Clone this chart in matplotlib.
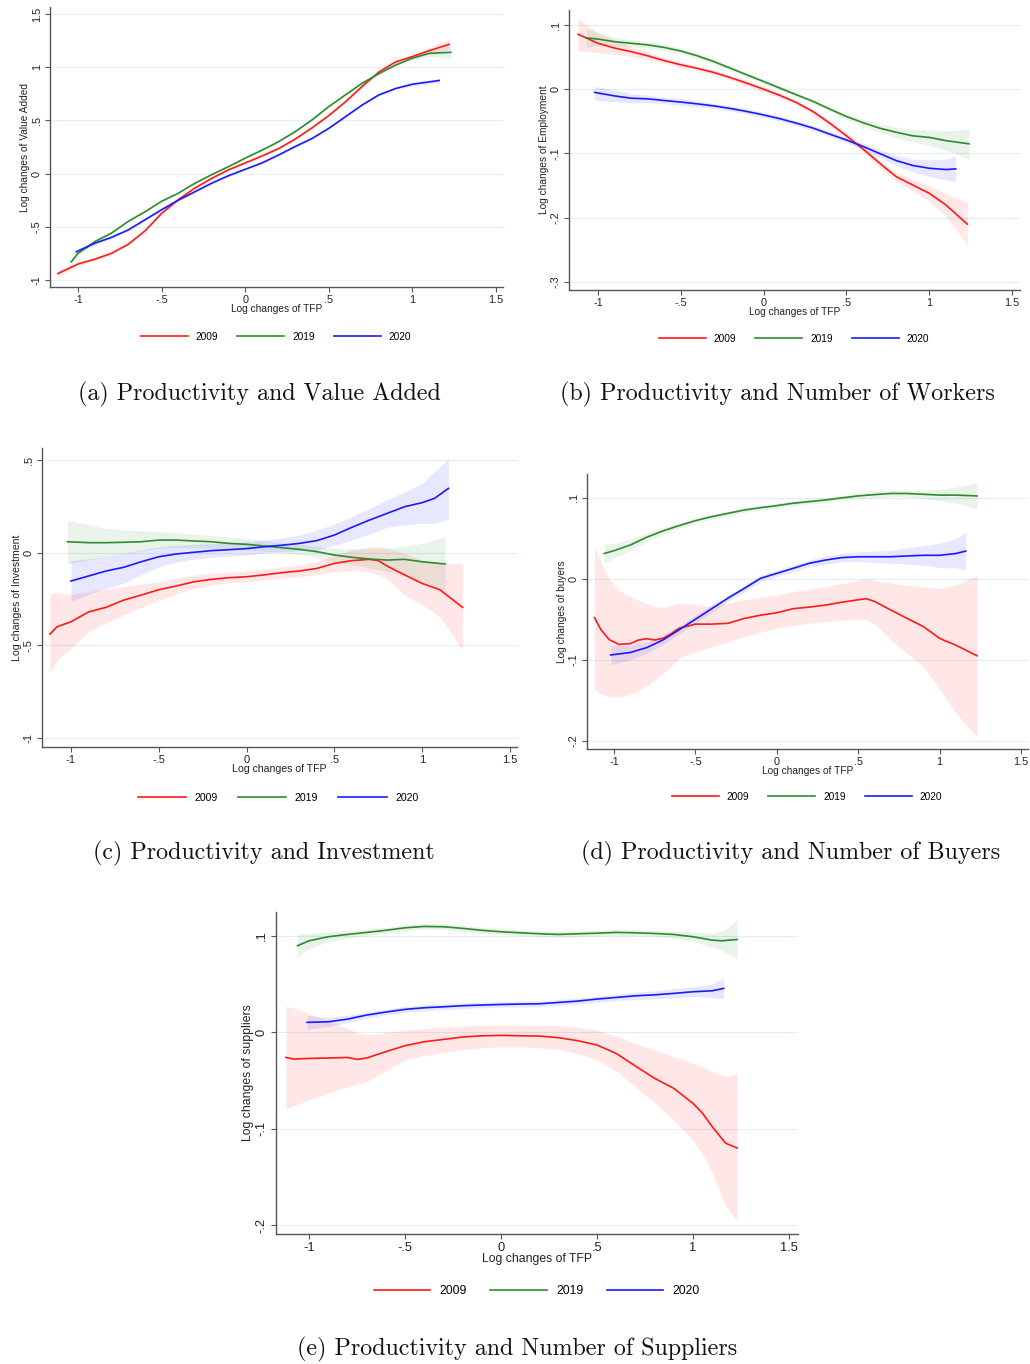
import matplotlib
matplotlib.use("Agg")
import matplotlib.pyplot as plt
from matplotlib.lines import Line2D

# ---------------- data ----------------
years = ["2009", "2019", "2020"]
colors = ["#ff1a1a", "#2e8b2e", "#1a1aff"]

x_ticks = [-1, -0.5, 0, 0.5, 1, 1.5]
x_tick_labels = ["-1", "-.5", "0", ".5", "1", "1.5"]
x_label = "Log changes of TFP"

# (a) Value added
a_yticks = [-1, -0.5, 0, 0.5, 1, 1.5]
a_ytick_labels = ["-1", "-.5", "0", ".5", "1", "1.5"]
a_ylabel = "Log changes of Value Added"
a_x09 = [-1.12, -1.0, -0.9, -0.8, -0.7, -0.6, -0.5, -0.4, -0.3, -0.2, -0.1, 0.0, 0.1, 0.2, 0.3, 0.4, 0.5, 0.6, 0.7, 0.8, 0.9, 1.0, 1.1, 1.22]
a_y09 = [-0.94, -0.85, -0.805, -0.75, -0.665, -0.54, -0.375, -0.245, -0.135, -0.045, 0.035, 0.10, 0.165, 0.235, 0.325, 0.43, 0.545, 0.675, 0.82, 0.955, 1.05, 1.10, 1.155, 1.215]
a_lo09 = [-0.97, -0.87, -0.82, -0.765, -0.677, -0.55, -0.385, -0.255, -0.145, -0.055, 0.025, 0.09, 0.155, 0.225, 0.315, 0.42, 0.535, 0.662, 0.805, 0.94, 1.035, 1.08, 1.125, 1.165]
a_hi09 = [-0.91, -0.83, -0.79, -0.735, -0.653, -0.53, -0.365, -0.235, -0.125, -0.035, 0.045, 0.11, 0.175, 0.245, 0.335, 0.44, 0.555, 0.688, 0.835, 0.97, 1.065, 1.12, 1.185, 1.265]
a_x19 = [-1.04, -1.0, -0.9, -0.8, -0.7, -0.6, -0.5, -0.4, -0.3, -0.2, -0.1, 0.0, 0.1, 0.2, 0.3, 0.4, 0.5, 0.6, 0.7, 0.8, 0.9, 1.0, 1.1, 1.23]
a_y19 = [-0.83, -0.75, -0.64, -0.56, -0.45, -0.36, -0.26, -0.185, -0.09, -0.01, 0.065, 0.145, 0.22, 0.30, 0.395, 0.505, 0.63, 0.74, 0.85, 0.94, 1.02, 1.085, 1.13, 1.14]
a_lo19 = [-0.86, -0.77, -0.655, -0.57, -0.46, -0.37, -0.27, -0.195, -0.10, -0.02, 0.055, 0.135, 0.21, 0.29, 0.385, 0.495, 0.62, 0.73, 0.84, 0.93, 1.008, 1.07, 1.105, 1.08]
a_hi19 = [-0.80, -0.73, -0.625, -0.55, -0.44, -0.35, -0.25, -0.175, -0.08, 0.0, 0.075, 0.155, 0.23, 0.31, 0.405, 0.515, 0.64, 0.75, 0.86, 0.95, 1.032, 1.10, 1.155, 1.20]
a_x20 = [-1.01, -0.9, -0.8, -0.7, -0.6, -0.5, -0.4, -0.3, -0.2, -0.1, 0.0, 0.1, 0.2, 0.3, 0.4, 0.5, 0.6, 0.7, 0.8, 0.9, 1.0, 1.16]
a_y20 = [-0.735, -0.655, -0.60, -0.53, -0.435, -0.34, -0.25, -0.17, -0.09, -0.02, 0.04, 0.10, 0.175, 0.255, 0.33, 0.425, 0.535, 0.645, 0.74, 0.80, 0.84, 0.875]
a_lo20 = [-0.755, -0.67, -0.612, -0.542, -0.447, -0.352, -0.262, -0.182, -0.102, -0.032, 0.028, 0.088, 0.163, 0.243, 0.318, 0.413, 0.523, 0.633, 0.728, 0.788, 0.826, 0.855]
a_hi20 = [-0.715, -0.64, -0.588, -0.518, -0.423, -0.328, -0.238, -0.158, -0.078, -0.008, 0.052, 0.112, 0.187, 0.267, 0.342, 0.437, 0.547, 0.657, 0.752, 0.812, 0.854, 0.895]

# (b) Employment
b_yticks = [-0.3, -0.2, -0.1, 0, 0.1]
b_ytick_labels = ["-.3", "-.2", "-.1", "0", ".1"]
b_ylabel = "Log changes of Employment"
b_x09 = [-1.12, -1.0, -0.9, -0.8, -0.7, -0.6, -0.5, -0.4, -0.3, -0.2, -0.1, 0.0, 0.1, 0.2, 0.3, 0.4, 0.5, 0.6, 0.7, 0.8, 0.9, 1.0, 1.1, 1.23]
b_y09 = [0.0855, 0.0715, 0.064, 0.0585, 0.052, 0.0445, 0.038, 0.0325, 0.026, 0.018, 0.0093, 0.0, -0.0098, -0.021, -0.035, -0.053, -0.0725, -0.093, -0.115, -0.136, -0.149, -0.162, -0.18, -0.21]
b_lo09 = [0.06, 0.057, 0.054, 0.051, 0.046, 0.040, 0.034, 0.029, 0.022, 0.014, 0.005, -0.004, -0.014, -0.025, -0.039, -0.057, -0.077, -0.098, -0.121, -0.143, -0.158, -0.174, -0.197, -0.242]
b_hi09 = [0.11, 0.088, 0.076, 0.066, 0.058, 0.049, 0.042, 0.036, 0.030, 0.022, 0.0135, 0.004, -0.0056, -0.017, -0.031, -0.049, -0.068, -0.088, -0.109, -0.129, -0.140, -0.150, -0.163, -0.176]
b_x19 = [-1.07, -1.0, -0.9, -0.8, -0.7, -0.6, -0.5, -0.4, -0.3, -0.2, -0.1, 0.0, 0.1, 0.2, 0.3, 0.4, 0.5, 0.6, 0.7, 0.8, 0.9, 1.0, 1.1, 1.24]
b_y19 = [0.080, 0.078, 0.074, 0.0715, 0.069, 0.065, 0.0595, 0.052, 0.043, 0.0326, 0.0223, 0.012, 0.0016, -0.0088, -0.019, -0.031, -0.0425, -0.052, -0.0606, -0.067, -0.0725, -0.075, -0.080, -0.085]
b_lo19 = [0.065, 0.068, 0.067, 0.066, 0.064, 0.060, 0.055, 0.048, 0.039, 0.029, 0.019, 0.009, -0.0015, -0.012, -0.022, -0.0345, -0.047, -0.057, -0.067, -0.075, -0.082, -0.087, -0.095, -0.109]
b_hi19 = [0.095, 0.088, 0.081, 0.077, 0.074, 0.070, 0.064, 0.056, 0.047, 0.036, 0.0256, 0.015, 0.0047, -0.0056, -0.016, -0.0275, -0.038, -0.047, -0.054, -0.059, -0.063, -0.063, -0.065, -0.062]
b_x20 = [-1.02, -0.9, -0.8, -0.7, -0.6, -0.5, -0.4, -0.3, -0.2, -0.1, 0.0, 0.1, 0.2, 0.3, 0.4, 0.5, 0.6, 0.7, 0.8, 0.9, 1.0, 1.1, 1.16]
b_y20 = [-0.005, -0.0104, -0.014, -0.015, -0.0176, -0.020, -0.0228, -0.026, -0.030, -0.0347, -0.040, -0.046, -0.053, -0.0606, -0.070, -0.079, -0.089, -0.100, -0.111, -0.1187, -0.123, -0.125, -0.124]
b_lo20 = [-0.017, -0.0194, -0.021, -0.021, -0.0226, -0.025, -0.0278, -0.030, -0.034, -0.0387, -0.044, -0.050, -0.057, -0.0646, -0.074, -0.083, -0.094, -0.106, -0.119, -0.1287, -0.136, -0.141, -0.144]
b_hi20 = [0.005, -0.0014, -0.007, -0.009, -0.0126, -0.015, -0.0178, -0.022, -0.026, -0.0307, -0.036, -0.042, -0.049, -0.0566, -0.066, -0.075, -0.084, -0.094, -0.103, -0.1087, -0.110, -0.109, -0.104]

# (c) Investment
c_yticks = [-1, -0.5, 0, 0.5]
c_ytick_labels = ["-1", "-.5", "0", ".5"]
c_ylabel = "Log changes of Investment"
c_x09 = [-1.12, -1.08, -1.0, -0.9, -0.8, -0.7, -0.6, -0.5, -0.4, -0.3, -0.2, -0.1, 0.0, 0.1, 0.2, 0.3, 0.4, 0.5, 0.6, 0.7, 0.75, 0.8, 0.9, 1.0, 1.1, 1.23]
c_y09 = [-0.44, -0.40, -0.373, -0.32, -0.295, -0.256, -0.229, -0.20, -0.18, -0.157, -0.144, -0.135, -0.13, -0.12, -0.108, -0.099, -0.085, -0.058, -0.043, -0.036, -0.043, -0.072, -0.12, -0.166, -0.20, -0.295]
c_lo09 = [-0.65, -0.58, -0.517, -0.427, -0.38, -0.337, -0.295, -0.256, -0.225, -0.193, -0.175, -0.163, -0.157, -0.148, -0.138, -0.13, -0.118, -0.103, -0.095, -0.105, -0.12, -0.14, -0.229, -0.283, -0.346, -0.526]
c_hi09 = [-0.22, -0.216, -0.225, -0.21, -0.197, -0.184, -0.17, -0.157, -0.138, -0.12, -0.11, -0.104, -0.10, -0.09, -0.078, -0.067, -0.05, -0.013, 0.015, 0.03, 0.036, 0.025, -0.004, -0.04, -0.058, -0.061]
c_x19 = [-1.02, -0.9, -0.8, -0.7, -0.6, -0.5, -0.4, -0.3, -0.2, -0.1, 0.0, 0.1, 0.2, 0.3, 0.4, 0.5, 0.6, 0.7, 0.8, 0.9, 1.0, 1.13]
c_y19 = [0.059, 0.054, 0.054, 0.056, 0.059, 0.068, 0.068, 0.063, 0.059, 0.05, 0.045, 0.036, 0.027, 0.018, 0.0054, -0.0126, -0.025, -0.034, -0.04, -0.036, -0.049, -0.061]
c_lo19 = [-0.061, -0.04, -0.022, -0.005, 0.01, 0.023, 0.028, 0.027, 0.024, 0.018, 0.014, 0.008, 0.0, -0.01, -0.025, -0.049, -0.065, -0.082, -0.103, -0.128, -0.157, -0.21]
c_hi19 = [0.176, 0.15, 0.131, 0.124, 0.118, 0.113, 0.108, 0.099, 0.094, 0.085, 0.077, 0.066, 0.055, 0.045, 0.035, 0.023, 0.02, 0.02, 0.023, 0.035, 0.05, 0.086]
c_x20 = [-1.0, -0.9, -0.8, -0.7, -0.6, -0.5, -0.4, -0.3, -0.2, -0.1, 0.0, 0.1, 0.2, 0.3, 0.4, 0.5, 0.6, 0.7, 0.8, 0.9, 1.0, 1.07, 1.15]
c_y20 = [-0.153, -0.126, -0.099, -0.079, -0.049, -0.022, -0.007, 0.002, 0.011, 0.016, 0.022, 0.032, 0.04, 0.05, 0.065, 0.095, 0.137, 0.176, 0.212, 0.248, 0.27, 0.293, 0.347]
c_lo20 = [-0.265, -0.225, -0.193, -0.165, -0.12, -0.076, -0.05, -0.035, -0.025, -0.018, -0.013, -0.003, 0.005, 0.01, 0.014, 0.04, 0.068, 0.1, 0.137, 0.15, 0.158, 0.158, 0.18]
c_hi20 = [-0.043, -0.033, -0.022, -0.002, 0.015, 0.032, 0.04, 0.045, 0.05, 0.054, 0.059, 0.068, 0.08, 0.095, 0.122, 0.155, 0.194, 0.24, 0.284, 0.33, 0.374, 0.437, 0.51]

# (d) Buyers
d_yticks = [-0.2, -0.1, 0, 0.1]
d_ytick_labels = ["-.2", "-.1", "0", ".1"]
d_ylabel = "Log changes of buyers"
d_x09 = [-1.12, -1.08, -1.03, -0.97, -0.9, -0.85, -0.8, -0.75, -0.7, -0.65, -0.6, -0.5, -0.4, -0.3, -0.2, -0.1, 0.0, 0.1, 0.2, 0.3, 0.4, 0.5, 0.55, 0.6, 0.7, 0.8, 0.9, 1.0, 1.1, 1.23]
d_y09 = [-0.048, -0.063, -0.075, -0.081, -0.080, -0.0756, -0.074, -0.0756, -0.0736, -0.068, -0.061, -0.056, -0.056, -0.055, -0.049, -0.045, -0.042, -0.037, -0.035, -0.0325, -0.029, -0.026, -0.0247, -0.028, -0.0386, -0.049, -0.059, -0.0736, -0.082, -0.095]
d_lo09 = [-0.137, -0.142, -0.145, -0.146, -0.143, -0.138, -0.132, -0.125, -0.117, -0.108, -0.098, -0.09, -0.084, -0.078, -0.0715, -0.066, -0.061, -0.058, -0.055, -0.053, -0.051, -0.050, -0.050, -0.056, -0.0756, -0.092, -0.108, -0.137, -0.166, -0.195]
d_hi09 = [0.039, 0.02, 0.0, -0.014, -0.022, -0.027, -0.031, -0.034, -0.035, -0.033, -0.030, -0.032, -0.034, -0.030, -0.026, -0.023, -0.020, -0.016, -0.013, -0.0099, -0.006, -0.002, 0.0004, -0.002, -0.005, -0.008, -0.0099, -0.012, -0.0078, 0.0045]
d_x19 = [-1.06, -1.0, -0.9, -0.8, -0.7, -0.6, -0.5, -0.4, -0.3, -0.2, -0.1, 0.0, 0.1, 0.2, 0.3, 0.4, 0.5, 0.6, 0.7, 0.8, 0.9, 1.0, 1.1, 1.23]
d_y19 = [0.031, 0.0345, 0.0415, 0.051, 0.0588, 0.0654, 0.0715, 0.0764, 0.0805, 0.0846, 0.0875, 0.09, 0.093, 0.095, 0.097, 0.0996, 0.102, 0.1036, 0.105, 0.105, 0.104, 0.103, 0.103, 0.102]
d_lo19 = [0.019, 0.0255, 0.0345, 0.046, 0.0548, 0.0624, 0.0685, 0.0734, 0.0775, 0.0816, 0.0845, 0.087, 0.090, 0.092, 0.094, 0.0966, 0.099, 0.0996, 0.101, 0.101, 0.099, 0.096, 0.093, 0.086]
d_hi19 = [0.043, 0.0435, 0.0485, 0.056, 0.0628, 0.0684, 0.0745, 0.0794, 0.0835, 0.0876, 0.0905, 0.093, 0.096, 0.098, 0.100, 0.1026, 0.105, 0.1076, 0.109, 0.109, 0.109, 0.110, 0.113, 0.118]
d_x20 = [-1.02, -0.9, -0.8, -0.7, -0.6, -0.5, -0.4, -0.3, -0.2, -0.1, 0.0, 0.1, 0.2, 0.3, 0.4, 0.5, 0.6, 0.7, 0.8, 0.9, 1.0, 1.1, 1.16]
d_y20 = [-0.094, -0.091, -0.085, -0.0756, -0.063, -0.05, -0.037, -0.024, -0.012, 0.0004, 0.0066, 0.0127, 0.019, 0.023, 0.026, 0.027, 0.027, 0.027, 0.028, 0.0288, 0.0288, 0.031, 0.034]
d_lo20 = [-0.106, -0.100, -0.092, -0.0816, -0.068, -0.055, -0.042, -0.028, -0.016, -0.0036, 0.0026, 0.0087, 0.015, 0.018, 0.021, 0.021, 0.020, 0.019, 0.018, 0.0168, 0.0138, 0.013, 0.011]
d_hi20 = [-0.082, -0.082, -0.078, -0.0696, -0.058, -0.045, -0.032, -0.020, -0.008, 0.0044, 0.0106, 0.0167, 0.023, 0.028, 0.031, 0.033, 0.034, 0.035, 0.038, 0.0408, 0.0438, 0.049, 0.057]

# (e) Suppliers
e_yticks = [-0.2, -0.1, 0, 0.1]
e_ytick_labels = ["-.2", "-.1", "0", ".1"]
e_ylabel = "Log changes of suppliers"
e_x09 = [-1.12, -1.08, -1.0, -0.9, -0.8, -0.75, -0.7, -0.6, -0.5, -0.4, -0.3, -0.2, -0.1, 0.0, 0.1, 0.2, 0.3, 0.4, 0.5, 0.6, 0.7, 0.8, 0.9, 1.0, 1.05, 1.1, 1.17, 1.23]
e_y09 = [-0.026, -0.0277, -0.027, -0.0266, -0.026, -0.028, -0.0266, -0.020, -0.0138, -0.0097, -0.0073, -0.0048, -0.0035, -0.0031, -0.0035, -0.0038, -0.0055, -0.0086, -0.0131, -0.0218, -0.0349, -0.0477, -0.0581, -0.0737, -0.084, -0.0979, -0.115, -0.12]
e_lo09 = [-0.080, -0.076, -0.070, -0.063, -0.0564, -0.054, -0.0512, -0.040, -0.0287, -0.024, -0.0211, -0.018, -0.016, -0.0149, -0.015, -0.016, -0.0176, -0.022, -0.0287, -0.040, -0.0564, -0.073, -0.091, -0.1117, -0.127, -0.146, -0.180, -0.196]
e_hi09 = [0.0273, 0.025, 0.0197, 0.012, 0.0042, 0.0, -0.0028, 0.0, 0.0024, 0.004, 0.0052, 0.0065, 0.0072, 0.0076, 0.0075, 0.0072, 0.0069, 0.005, 0.0024, -0.004, -0.0114, -0.018, -0.0253, -0.0322, -0.036, -0.0408, -0.046, -0.0425]
e_x19 = [-1.06, -1.0, -0.9, -0.8, -0.7, -0.6, -0.5, -0.4, -0.3, -0.2, -0.1, 0.0, 0.1, 0.2, 0.3, 0.4, 0.5, 0.6, 0.7, 0.8, 0.9, 1.0, 1.1, 1.15, 1.23]
e_y19 = [0.090, 0.0951, 0.0993, 0.1017, 0.1038, 0.106, 0.1086, 0.110, 0.1097, 0.108, 0.106, 0.1045, 0.1034, 0.1024, 0.1017, 0.1024, 0.103, 0.1038, 0.1034, 0.1027, 0.1017, 0.0993, 0.0958, 0.0951, 0.0965]
e_lo19 = [0.078, 0.0871, 0.0943, 0.0977, 0.1008, 0.103, 0.1056, 0.107, 0.1067, 0.105, 0.103, 0.1015, 0.1004, 0.0994, 0.0987, 0.0994, 0.100, 0.1008, 0.1004, 0.0997, 0.0977, 0.0943, 0.0888, 0.0851, 0.0765]
e_hi19 = [0.102, 0.1031, 0.1043, 0.1057, 0.1068, 0.109, 0.1116, 0.113, 0.1127, 0.111, 0.109, 0.1075, 0.1064, 0.1054, 0.1047, 0.1054, 0.106, 0.1068, 0.1064, 0.1057, 0.1057, 0.1043, 0.1028, 0.1051, 0.1165]
e_x20 = [-1.01, -0.9, -0.8, -0.7, -0.6, -0.5, -0.4, -0.3, -0.2, -0.1, 0.0, 0.1, 0.2, 0.3, 0.4, 0.5, 0.6, 0.7, 0.8, 0.9, 1.0, 1.1, 1.16]
e_y20 = [0.0104, 0.011, 0.0138, 0.018, 0.0211, 0.0239, 0.0256, 0.0266, 0.0277, 0.0284, 0.029, 0.0294, 0.0297, 0.0311, 0.0325, 0.0346, 0.0363, 0.038, 0.039, 0.0405, 0.0422, 0.0432, 0.0457]
e_lo20 = [0.0034, 0.006, 0.0098, 0.015, 0.0181, 0.0209, 0.0226, 0.0236, 0.0247, 0.0254, 0.026, 0.0264, 0.0267, 0.0281, 0.0295, 0.0316, 0.0333, 0.034, 0.035, 0.0355, 0.0372, 0.0362, 0.0347]
e_hi20 = [0.0174, 0.016, 0.0178, 0.021, 0.0241, 0.0269, 0.0286, 0.0296, 0.0307, 0.0314, 0.032, 0.0324, 0.0327, 0.0341, 0.0355, 0.0376, 0.0393, 0.042, 0.043, 0.0455, 0.0472, 0.0502, 0.0567]

captions = ["(a) Productivity and Value Added",
            "(b) Productivity and Number of Workers",
            "(c) Productivity and Investment",
            "(d) Productivity and Number of Buyers",
            "(e) Productivity and Number of Suppliers"]

# ---------------- layout ----------------
W, H = 1030, 1364
SANS = ["Liberation Sans", "DejaVu Sans"]
SERIF = ["cmr10", "DejaVu Serif"]
plt.rcParams["axes.unicode_minus"] = False

fig = plt.figure(figsize=(W / 100, H / 100), dpi=100)


def rect(l, t, r, b):
    return [l / W, 1 - b / H, (r - l) / W, (b - t) / H]


panels = [
    dict(box=(50, 7, 503, 287), xlim=(-1.167, 1.542), ylim=(-1.066, 1.566),
         yt=a_yticks, ytl=a_ytick_labels, ylab=a_ylabel,
         series=[(a_x09, a_y09, a_lo09, a_hi09), (a_x19, a_y19, a_lo19, a_hi19), (a_x20, a_y20, a_lo20, a_hi20)],
         fs=7.3, tfs=7.8, leg=(276, 337), cap=(259, 394)),
    dict(box=(569, 10, 1020, 290), xlim=(-1.175, 1.548), ylim=(-0.3125, 0.1233),
         yt=b_yticks, ytl=b_ytick_labels, ylab=b_ylabel,
         series=[(b_x09, b_y09, b_lo09, b_hi09), (b_x19, b_y19, b_lo19, b_hi19), (b_x20, b_y20, b_lo20, b_hi20)],
         fs=7.3, tfs=7.8, leg=(794, 339), cap=(777, 394)),
    dict(box=(42, 448, 517, 747), xlim=(-1.165, 1.54), ylim=(-1.049, 0.565),
         yt=c_yticks, ytl=c_ytick_labels, ylab=c_ylabel,
         series=[(c_x09, c_y09, c_lo09, c_hi09), (c_x19, c_y19, c_lo19, c_hi19), (c_x20, c_y20, c_lo20, c_hi20)],
         fs=7.6, tfs=8.0, leg=(278, 798), cap=(264, 853)),
    dict(box=(587, 474, 1028, 749), xlim=(-1.166, 1.543), ylim=(-0.2099, 0.129),
         yt=d_yticks, ytl=d_ytick_labels, ylab=d_ylabel,
         series=[(d_x09, d_y09, d_lo09, d_hi09), (d_x19, d_y19, d_lo19, d_hi19), (d_x20, d_y20, d_lo20, d_hi20)],
         fs=7.3, tfs=7.8, leg=(807, 797), cap=(791, 853)),
    dict(box=(276, 912, 798, 1234), xlim=(-1.172, 1.547), ylim=(-0.2093, 0.125),
         yt=e_yticks, ytl=e_ytick_labels, ylab=e_ylabel,
         series=[(e_x09, e_y09, e_lo09, e_hi09), (e_x19, e_y19, e_lo19, e_hi19), (e_x20, e_y20, e_lo20, e_hi20)],
         fs=8.8, tfs=9.3, leg=(537, 1291), cap=(517, 1349)),
]

for p, cap in zip(panels, captions):
    ax = fig.add_axes(rect(*p["box"]))
    fs = p["fs"]
    tfs = p["tfs"]
    for (xs, ys, lo, hi), col, yr in zip(p["series"], colors, years):
        ax.fill_between(xs, lo, hi, color=col, alpha=0.10, linewidth=0, zorder=2)
        ax.plot(xs, ys, color=col, lw=1.2, zorder=3, label=yr,
                solid_joinstyle="round")
    ax.set_xlim(*p["xlim"])
    ax.set_ylim(*p["ylim"])
    ax.set_xticks(x_ticks)
    ax.set_xticklabels(x_tick_labels, fontsize=tfs, family=SANS, color="#222222")
    ax.set_yticks(p["yt"])
    ax.set_yticklabels(p["ytl"], fontsize=tfs, family=SANS, color="#222222",
                       rotation=90, va="center")
    ax.tick_params(axis="both", length=3.5, width=0.8, color="#555555", pad=2.5)
    ax.grid(axis="y", color="#e4eef0", lw=0.8, zorder=0)
    ax.set_axisbelow(True)
    for s in ["top", "right"]:
        ax.spines[s].set_visible(False)
    for s in ["left", "bottom"]:
        ax.spines[s].set_color("#555555")
        ax.spines[s].set_linewidth(1.0)
    ax.set_xlabel(x_label, fontsize=fs, family=SANS, color="#222222", labelpad=-1)
    ax.set_ylabel(p["ylab"], fontsize=fs, family=SANS, color="#222222", labelpad=1)

    handles = [Line2D([], [], color=c, lw=1.2) for c in colors]
    lx, ly = p["leg"]
    fig.legend(handles, years, loc="center", bbox_to_anchor=(lx / W, 1 - ly / H),
               ncol=3, frameon=False, prop={"family": SANS, "size": fs},
               handlelength=4.6, handletextpad=0.8, columnspacing=1.9,
               borderpad=0, borderaxespad=0)
    cx, cy = p["cap"]
    fig.text(cx / W, 1 - cy / H, cap, ha="center", va="center",
             fontsize=17.3, family=SERIF, color="#111111")

fig.savefig("out.png", dpi=100)
